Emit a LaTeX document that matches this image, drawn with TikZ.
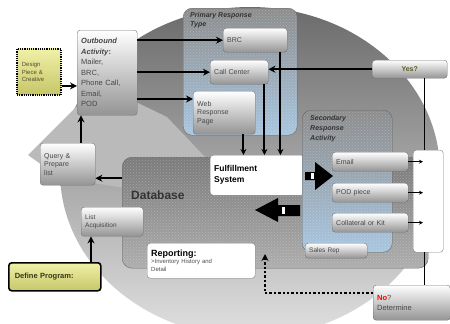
\documentclass[tikz,border=0pt]{standalone}
\usepackage{fontspec}
\setmainfont{Liberation Sans}
\usetikzlibrary{arrows.meta,patterns}

\definecolor{paleblue}{RGB}{168,198,224}
\definecolor{straw}{RGB}{240,240,168}
\definecolor{olivebox}{RGB}{198,198,104}
\definecolor{olivetext}{RGB}{92,92,40}

\tikzset{
  box/.style={draw=black!55, rounded corners=3pt, top color=white, bottom color=black!42,
    anchor=north west, inner sep=4pt, align=left, text=black!72, font=\fontsize{7}{8.5}\selectfont},
  plain/.style={draw=black!50, fill=white, rounded corners=3pt, anchor=north west, inner sep=4pt, align=left},
  yellowbox/.style={anchor=north west, top color=straw, bottom color=olivebox, align=left, inner sep=5pt},
  panel/.style={draw=black!60, rounded corners=9pt, anchor=north west, top color=black!45, bottom color=paleblue,
    postaction={pattern=crosshatch dots, pattern color=white, opacity=0.25}},
  title/.style={anchor=north west, inner sep=0pt, align=left, font=\fontsize{7}{9}\selectfont\bfseries\itshape, text=black!80},
  arr/.style={line width=2.2pt, -{Stealth[length=7pt,width=7pt]}},
  drop/.style={line width=2pt, -{Stealth[length=6pt,width=6pt]}},
  dotarr/.style={line width=2.4pt, dash pattern=on 2.4pt off 2pt, -{Stealth[length=7pt,width=7pt]}},
}

\begin{document}
\begin{tikzpicture}[x=1pt,y=-1pt]
\useasboundingbox (0,0) rectangle (450,324);

% big circular arrow behind everything
\shade[top color=black!58, middle color=black!32, bottom color=black!12] (250,172) ellipse [x radius=190pt, y radius=165pt];
\fill[black!27] (28,155) -- (106,77) -- (138,103) -- (167,117) -- (205,157) -- (205,200) -- (60,178) -- cycle;

% database block
\node[draw=black!60, rounded corners=10pt, anchor=north west, minimum width=306pt, minimum height=111pt,
  top color=black!52, bottom color=black!32, postaction={pattern=crosshatch dots, pattern color=white, opacity=0.25}] (db) at (122,157) {};
\node[anchor=north west, inner sep=0pt, font=\fontsize{12}{14}\selectfont\bfseries, text=black!80] (dblabel) at (131,191) {Database};

% left column
\node[yellowbox, draw=black, line width=1.8pt, dash pattern=on 1.2pt off 1pt, minimum width=44pt, minimum height=46pt,
  text width=34pt, font=\fontsize{6}{7.5}\selectfont, text=black!55!olive] (design) at (16,48) {Design\\Piece \&\\Creative};
\node[box, minimum width=60pt, minimum height=85pt, text width=52pt, font=\fontsize{7.5}{10.5}\selectfont] (outbound) at (77,30)
  {\textbf{\textit{Outbound}}\\\textbf{\textit{Activity}:}\\Mailer,\\BRC,\\Phone Call,\\Email,\\POD};
\node[box, minimum width=55pt, minimum height=42pt, text width=47pt] (query) at (40,143) {Query \&\\Prepare\\list};
\node[box, minimum width=62pt, minimum height=29pt, text width=54pt, font=\fontsize{6.5}{8}\selectfont] (list) at (81,207) {List\\Acquisition};
\node[yellowbox, draw=black, line width=1.6pt, rounded corners=3pt, minimum width=92pt, minimum height=28pt,
  text width=80pt, font=\fontsize{7.5}{9}\selectfont\bfseries, text=olivetext!60!black] (define) at (8,262) {Define Program:};

% primary response
\node[panel, minimum width=114pt, minimum height=127pt] (primary) at (183,8) {};
\node[title] (primarytitle) at (190,12) {Primary Response\\Type};
\node[box, minimum width=64pt, minimum height=24pt, text width=56pt] (brc) at (223,28) {BRC};
\node[box, minimum width=58pt, minimum height=24pt, text width=50pt] (call) at (210,60) {Call Center};
\node[box, minimum width=62pt, minimum height=43pt, text width=54pt] (web) at (193,91) {Web\\Response\\Page};

\node[box, minimum width=75pt, minimum height=18pt, text width=67pt, align=center,
  font=\fontsize{7}{8}\selectfont\bfseries, text=olivetext] (yes) at (372,60) {Yes?};

\node[plain, minimum width=94pt, minimum height=40pt, text width=86pt, font=\fontsize{8.5}{11}\selectfont\bfseries] (ful) at (210,155) {Fulfillment\\System};

% secondary response
\node[panel, minimum width=90pt, minimum height=142pt] (second) at (302,110) {};
\node[title, font=\fontsize{7}{10}\selectfont\bfseries\itshape] (secondtitle) at (310,115) {Secondary\\Response\\Activity};
\node[box, minimum width=76pt, minimum height=19pt, text width=68pt] (email) at (332,152) {Email};
\node[box, minimum width=76pt, minimum height=19pt, text width=68pt] (pod) at (332,183) {POD piece};
\node[box, minimum width=76pt, minimum height=19pt, text width=68pt] (kit) at (332,213) {Collateral or Kit};
\node[box, minimum width=62pt, minimum height=15pt, text width=54pt, font=\fontsize{6.5}{8}\selectfont] (sales) at (305,243) {Sales Rep};
\node[plain, minimum width=30pt, minimum height=102pt] (collect) at (413,150) {};

\node[plain, minimum width=108pt, minimum height=35pt, text width=100pt, font=\fontsize{6}{7.5}\selectfont, text=black!70] (report) at (147,243)
  {\textcolor{black}{\fontsize{9}{8}\selectfont\bfseries Reporting:}\\>Inventory History and\\Detail};
\node[box, minimum width=77pt, minimum height=35pt, text width=69pt, font=\fontsize{7.5}{10}\selectfont] (no) at (373,285)
  {\textcolor{red}{\textbf{No}}?\\Determine};

% block arrows in and out of fulfillment
\fill (305,172) -- (315,172) -- (315,162) -- (333,176) -- (315,190) -- (315,180) -- (305,180) -- cycle;
\fill[white] (311,173) rectangle (314,179);
\fill (300,205) -- (278,205) -- (278,198) -- (255,210) -- (278,222) -- (278,216) -- (300,216) -- cycle;
\fill[white] (282,207) rectangle (285,214);

% connectors
\coordinate (dout) at ([yshift=-14pt]design.east);
\draw[arr] (dout) -- (dout -| outbound.west);
\draw[arr] (outbound.east |- brc) -- (brc);
\draw[arr] (outbound.east |- call) -- (call);
\coordinate (webin) at ([yshift=-8pt]web.north west);
\draw[arr] (outbound.east |- webin) -- (webin);

\coordinate (wdrop) at ([xshift=-12pt]web.south east);
\coordinate (cdrop) at ([xshift=-4pt]call.south east);
\coordinate (bdrop) at ([xshift=-7pt]brc.south east);
\foreach \c in {wdrop,cdrop,bdrop}
  \draw[drop] (\c) -- (\c |- ful.north);

\draw[arr] (yes.west) -- (yes.west -| call.east);
\coordinate (ydrop) at ([xshift=-4pt]collect.north);
\draw[line width=1.3pt] (ydrop |- yes.south) -- (ydrop);
\draw[line width=1.3pt] (ydrop |- collect.south) -- (ydrop |- no.north);

\foreach \b in {email,pod,kit}
  \draw[line width=1.2pt, -{Stealth[length=4pt,width=4pt]}, shorten >=-10pt] (\b.east) -- (\b.east -| collect.west);

\coordinate (qup) at ([xshift=4pt]outbound.south west);
\draw[arr] (qup |- query.north) -- (qup);
\coordinate (qin) at ([yshift=-14pt]query.east);
\draw[arr] (qin -| db.west) -- (qin);
\coordinate (lup) at ([xshift=10pt]list.south west);
\draw[arr] (lup |- define.north) -- (lup);

\coordinate (back) at ([yshift=-8pt]no.north west);
\coordinate (dbin) at (265,254);
\draw[dotarr] (back) -| (dbin);
\end{tikzpicture}
\end{document}
